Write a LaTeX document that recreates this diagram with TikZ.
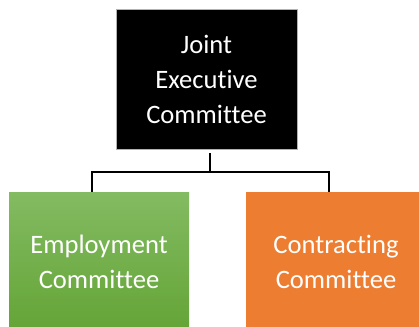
\documentclass[tikz,border=0pt]{standalone}
\usepackage{fontspec}
\setmainfont{Carlito}[Ligatures={NoCommon}]
\definecolor{orgorange}{RGB}{237,125,49}
\definecolor{greentop}{RGB}{131,187,98}
\definecolor{greenbot}{RGB}{100,164,54}
\tikzset{
  box/.style={rectangle, minimum width=181pt, minimum height=140pt, inner sep=0pt,
    text=white, align=center, font=\fontsize{26.6}{35}\selectfont},
  conn/.style={draw=black, line width=1.3pt}
}
\begin{document}
\begin{tikzpicture}[x=1pt,y=-1pt]
\useasboundingbox (0,0) rectangle (419,326);
\clip (0,0) rectangle (419,326);
\node[box, fill=black, draw=gray!60, line width=0.6pt] (top) at (206.5,79) {Joint\\Executive\\Committee};
\node[box, minimum width=180pt, top color=greentop, bottom color=greenbot] (left) at (99,262) {Employment\\Committee};
\node[box, minimum width=180pt, fill=orgorange] (right) at (336,262) {Contracting\\Committee};
\coordinate (s) at (210,153);
\coordinate (m) at (210,172);
\coordinate (l) at (92,192);
\coordinate (r) at (329,192);
\draw[conn] (s) -- (m);
\draw[conn] (l) |- (m) -| (r);
\end{tikzpicture}
\end{document}
